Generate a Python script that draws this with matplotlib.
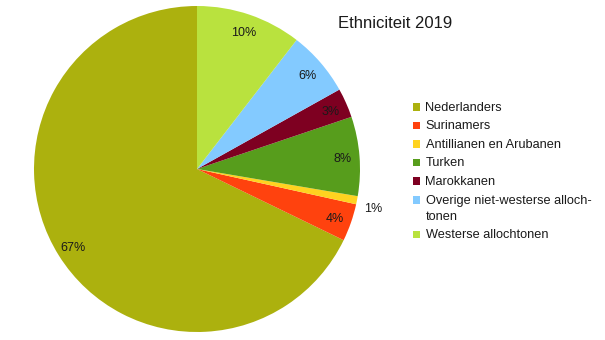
import matplotlib
matplotlib.use("Agg")
import matplotlib.pyplot as plt
from matplotlib.patches import Rectangle
from matplotlib.transforms import offset_copy
import numpy as np

plt.rcParams["font.family"] = ["Liberation Sans", "DejaVu Sans"]

# Ethnic composition 2019 (percent of population)
categories = [
    "Nederlanders",
    "Surinamers",
    "Antillianen en Arubanen",
    "Turken",
    "Marokkanen",
    "Overige niet-westerse allochtonen",
    "Westerse allochtonen",
]
legend_labels = [
    "Nederlanders",
    "Surinamers",
    "Antillianen en Arubanen",
    "Turken",
    "Marokkanen",
    "Overige niet-westerse alloch-\ntonen",
    "Westerse allochtonen",
]
shares = [67.4, 3.7, 0.8, 7.8, 2.9, 6.4, 10.4]
colors = ["#acb10e", "#ff420e", "#ffd320", "#579d1c", "#7e0021", "#83caff", "#b9e23e"]
title = "Ethniciteit 2019"

fig = plt.figure(figsize=(6.05, 3.4), dpi=100)
W, H = 605, 340

# pie area in pixel terms: centre (197, 169), radius 163
cx, cy, r = 197, 169, 163
ax = fig.add_axes([(cx - r) / W, (H - cy - r) / H, 2 * r / W, 2 * r / H])
wedges, _ = ax.pie(shares, colors=colors, startangle=90, counterclock=True,
                   radius=1.0, wedgeprops=dict(linewidth=0))
ax.set_xlim(-1, 1)
ax.set_ylim(-1, 1)
ax.set_aspect("equal")
ax.axis("off")

# percentage labels; tiny slices get their label outside the pie
lab_tr = offset_copy(ax.transData, fig=fig, x=0, y=-2, units="dots")
for w, v in zip(wedges, shares):
    mid = np.deg2rad((w.theta1 + w.theta2) / 2)
    if v >= 2:
        x, y = 0.895 * np.cos(mid), 0.895 * np.sin(mid)
    else:
        x, y = 1.1 * np.cos(mid), 1.1 * np.sin(mid) - 0.02
    ax.text(x, y, f"{v:.0f}%", ha="center", va="center", fontsize=9,
            color="#1a1a1a", transform=lab_tr)

# overlay in pixel coordinates for title and legend
ov = fig.add_axes([0, 0, 1, 1])
ov.set_xlim(0, W)
ov.set_ylim(H, 0)
ov.axis("off")

ov.text(395.5, 23, title, fontsize=12, ha="center", va="center", color="#1a1a1a")

row_y = [107, 125.5, 144, 162.5, 181, 200, 234.5]
line_step = 16.5
for y, lab, c in zip(row_y, legend_labels, colors):
    ov.add_patch(Rectangle((412.5, y - 4), 7.5, 7.5, facecolor=c, edgecolor="none"))
    for k, part in enumerate(lab.split("\n")):
        ov.text(425.5, y + 3.6 + k * line_step, part, fontsize=9.2, ha="left",
                va="baseline", color="#1a1a1a")

fig.savefig("out.png", dpi=100)
